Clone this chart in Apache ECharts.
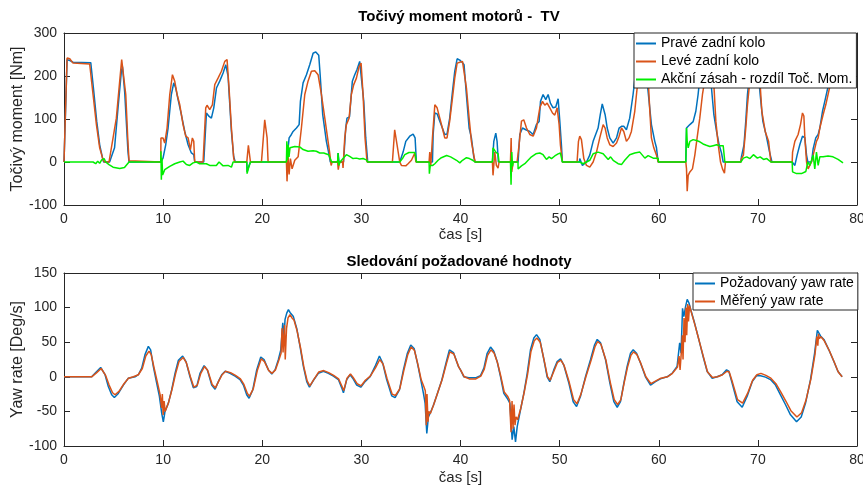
<!DOCTYPE html>
<html>
<head>
<meta charset="utf-8">
<script src="https://cdn.jsdelivr.net/npm/echarts@6/dist/echarts.min.js"></script>
<style>
  html, body { margin: 0; padding: 0; background: #fff; }
  #chart { width: 863px; height: 488px; }
</style>
</head>
<body>
<div id="chart"></div>
<script>
// [time s, torque Nm]
const pravePts = [
  [0,0],[0.31,238],[0.6,236],[0.91,232],[2.7,231],[3.0,165],[3.3,95],[3.6,40],[3.9,8],[4.0,0],
  [4.6,0],[5.1,33],[5.45,126],[5.79,211],[5.9,222],[6.13,160],[6.45,25],[6.56,0],
  [9.76,0],[9.99,9],[10.26,40],[10.5,79],[10.83,157],[11.07,184],[11.27,172],[11.51,145],[11.84,110],[12.18,71],[12.52,40],[12.85,21],[13.09,17],[13.19,0],
  [14.1,0],[14.37,114],[14.64,106],[14.87,102],[15.11,126],[15.38,172],[15.71,188],[16.05,207],[16.32,226],[16.55,200],[16.89,71],[17.12,12],[17.28,0],
  [18.44,0],[18.47,-23],[18.67,-8],[18.81,0],
  [22.44,0],[22.6,30],[22.71,56],[22.94,64],[23.11,71],[23.45,79],[23.72,87],[23.85,141],[24.12,184],[24.46,203],[24.79,226],[25.13,253],[25.4,256],[25.7,248],[25.85,200],[26.1,110],[26.47,48],[26.74,17],[26.87,0],
  [27.6,0],[27.65,21],[27.75,0],
  [28.2,0],[28.42,79],[28.55,102],[28.8,105],[29.09,188],[29.33,203],[29.56,215],[29.83,234],[30.0,232],[30.24,141],[30.44,56],[30.64,0],
  [33.87,0],[34.21,23],[34.48,48],[34.88,60],[35.22,65],[35.42,56],[35.55,0],
  [37.17,0],[37.24,64],[37.41,114],[37.64,112],[37.91,95],[38.17,79],[38.41,64],[38.64,65],[38.91,102],[39.19,164],[39.42,211],[39.66,240],[39.93,237],[40.2,231],[40.36,226],[40.6,155],[40.87,79],[41.1,56],[41.34,12],[41.47,0],
  [43.22,0],[43.36,48],[43.56,67],[43.69,48],[43.82,0],
  [45.81,0],[45.98,64],[46.25,79],[46.59,75],[46.99,71],[47.33,64],[47.66,87],[47.93,94],[48.07,141],[48.33,157],[48.6,145],[48.84,157],[49.07,137],[49.34,126],[49.61,128],[49.85,147],[50.02,94],[50.18,40],[50.28,0],
  [52.0,0],[52.03,8],[52.3,-8],[52.71,0],[53.04,16],[53.38,48],[53.88,79],[54.1,110],[54.3,135],[54.59,110],[54.8,79],[55.06,56],[55.4,44],[55.74,56],[56.0,79],[56.24,83],[56.47,83],[56.74,75],[57.07,102],[57.41,157],[57.6,195],[57.9,230],[58.3,245],[58.6,220],[58.9,170],[59.26,87],[59.6,48],[59.77,33],[59.94,0],
  [62.73,0],[62.8,79],[62.97,83],[63.14,87],[63.47,94],[63.74,118],[63.97,157],[64.14,195],[64.5,240],[64.9,250],[65.2,230],[65.32,172],[65.56,110],[65.83,71],[66.09,40],[66.33,21],[66.5,0],
  [68.28,0],[68.34,12],[68.6,40],[68.78,95],[68.95,157],[69.1,190],[69.5,245],[69.9,240],[70.23,157],[70.5,95],[70.84,62],[71.18,23],[71.42,0],
  [73.46,0],[73.73,-8],[73.96,16],[74.23,40],[74.5,60],[74.74,56],[74.91,16],[75.04,0],[75.41,0],[75.58,31],[75.84,56],[76.08,64],[76.25,79],[76.52,118],[76.75,141],[76.98,165],[77.2,185],[77.8,220],[78.2,210],[78.59,185]
];

const levePts = [
  [0,0],[0.31,242],[0.58,240],[0.91,230],[2.59,228],[2.93,157],[3.27,87],[3.6,33],[3.94,5],[4.1,0],
  [4.54,0],[4.95,56],[5.28,102],[5.62,188],[5.82,238],[6.02,238],[6.23,157],[6.43,56],[6.56,3],[6.6,0],
  [9.76,0],[9.78,56],[9.99,56],[10.16,44],[10.4,79],[10.67,157],[10.94,203],[11.17,188],[11.41,157],[11.68,133],[12.01,87],[12.28,60],[12.52,56],[12.75,29],[12.95,56],[13.09,48],[13.19,0],
  [14.03,0],[14.3,126],[14.43,132],[14.7,122],[14.97,133],[15.21,180],[15.54,195],[15.88,211],[16.22,234],[16.45,238],[16.65,172],[16.89,79],[17.12,9],[17.22,0],
  [18.44,0],[18.6,39],[18.74,39],[18.81,0],
  [19.92,0],[20.25,98],[20.49,56],[20.59,0],
  [22.44,0],[22.5,-45],[22.6,16],[22.71,-29],[22.84,8],[23.01,-16],[23.28,4],[23.62,12],[23.95,79],[24.29,157],[24.62,188],[24.96,211],[25.3,212],[25.63,203],[25.97,157],[26.31,102],[26.64,48],[26.81,20],[26.95,-8],[27.05,0],
  [27.6,0],[27.67,-18],[27.8,0],
  [28.1,0],[28.15,-14],[28.32,56],[28.49,87],[28.76,102],[28.99,157],[29.23,180],[29.5,195],[29.77,222],[29.97,230],[30.17,157],[30.37,56],[30.57,0],
  [33.13,0],[33.36,75],[33.6,40],[33.87,0],[34.04,-8],[34.21,-12],[34.48,-9],[34.71,-4],[35.05,4],[35.39,21],[35.5,0],
  [36.83,0],[36.9,23],[37.0,-8],[37.17,56],[37.41,133],[37.64,126],[37.91,102],[38.17,79],[38.41,56],[38.64,56],[38.91,95],[39.19,149],[39.42,195],[39.66,230],[39.93,232],[40.2,234],[40.36,230],[40.6,172],[40.87,102],[41.1,48],[41.34,16],[41.47,0],
  [43.22,0],[43.28,-31],[43.46,23],[43.62,-8],[43.79,-14],[43.89,0],
  [45.04,0],[45.11,56],[45.17,-23],[45.31,0],
  [45.71,0],[45.91,40],[46.15,95],[46.38,98],[46.66,79],[46.99,64],[47.33,60],[47.66,79],[48.0,126],[48.27,141],[48.5,132],[48.74,137],[49.01,126],[49.28,114],[49.51,109],[49.75,126],[49.95,87],[50.08,40],[50.28,0],
  [51.76,0],[51.9,48],[52.03,60],[52.2,52],[52.44,8],[52.71,-8],[53.04,-12],[53.38,0],[53.72,23],[54.05,56],[54.39,87],[54.59,79],[54.8,56],[55.06,40],[55.4,36],[55.74,44],[56.0,60],[56.24,79],[56.47,71],[56.74,48],[57.0,56],[57.24,71],[57.58,118],[57.82,172],[58.02,210],[58.4,240],[58.7,230],[58.93,195],[59.1,118],[59.26,56],[59.5,33],[59.77,16],[59.94,0],
  [62.73,0],[62.8,-16],[62.87,-68],[62.97,-31],[63.14,-23],[63.4,-16],[63.64,16],[63.87,56],[64.14,102],[64.41,157],[64.64,190],[65.0,245],[65.3,230],[65.56,180],[65.76,95],[66.0,40],[66.23,0],[66.43,-16],[66.63,-26],[66.73,0],
  [68.28,0],[68.34,8],[68.54,16],[68.78,79],[68.95,133],[69.15,180],[69.5,240],[69.9,235],[70.23,180],[70.4,118],[70.74,71],[71.08,48],[71.31,0],
  [73.46,0],[73.5,23],[73.73,48],[74.06,64],[74.3,87],[74.5,114],[74.64,107],[74.74,56],[74.91,0],[75.07,-16],[75.24,-8],[75.41,0],[75.58,16],[75.74,31],[75.91,48],[76.08,56],[76.25,79],[76.58,110],[76.85,133],[77.08,157],[77.3,180],[77.8,210],[78.2,200],[78.59,172]
];

const akcniPts = [
  [0,0],[2.93,0],[3.2,-4],[3.4,2],[3.6,-3],[3.8,5],[4.05,8],[4.2,0],[4.54,-6],[4.95,-12],[5.62,-15],[6.1,-13],[6.56,0],
  [9.76,0],[9.78,25],[9.82,-41],[9.88,10],[9.95,-30],[10.16,-18],[10.67,-10],[11.17,-4],[11.34,-8],[11.68,0],[12.01,2],[12.35,-6],[12.68,-8],[13.02,-2],[13.36,0],[13.69,-4],[14.36,-4],[14.7,-8],[15.37,-8],[15.64,0],[16.05,-9],[16.55,-8],[16.89,-12],[17.06,0],
  [18.44,0],[18.47,-27],[18.6,-15],[18.81,0],
  [22.44,0],[22.48,48],[22.55,5],[22.62,40],[22.7,12],[22.8,33],[23.0,33],[23.28,36],[23.78,35],[24.12,29],[24.62,25],[25.13,26],[25.46,25],[25.8,21],[26.2,21],[26.7,17],[26.9,15],[27.0,0],
  [27.6,0],[27.65,21],[27.72,-8],[27.85,0],[28.15,8],[28.49,17],[28.82,13],[29.16,8],[29.5,9],[29.83,7],[30.17,8],[30.5,5],[30.64,0],
  [33.87,0],[34.0,4],[34.2,10],[34.38,17],[34.8,22],[35.4,22],[35.55,0],
  [36.83,0],[36.86,-27],[36.95,-8],[37.2,-8],[37.41,-4],[37.74,4],[38.07,10],[38.6,15],[39.0,12],[39.6,4],[39.93,-2],[40.2,4],[40.6,10],[40.9,8],[41.24,4],[41.47,0],
  [43.22,0],[43.28,33],[43.56,23],[43.79,19],[43.89,0],
  [45.04,0],[45.1,-53],[45.17,23],[45.25,-10],[45.31,0],[45.8,0],[45.81,-16],[46.15,-9],[46.49,-4],[46.82,4],[47.16,12],[47.6,19],[48.0,21],[48.33,17],[48.67,6],[48.94,12],[49.18,8],[49.51,14],[49.85,19],[50.08,21],[50.28,0],
  [52.03,0],[52.37,-4],[52.71,0],[53.04,4],[53.38,19],[53.88,23],[54.39,19],[54.9,6],[55.14,12],[55.4,4],[55.9,-4],[56.24,-6],[56.57,4],[57.07,17],[57.58,21],[58.09,23],[58.6,9],[58.93,15],[59.44,9],[59.94,9],[59.97,0],
  [62.73,0],[62.8,79],[62.87,48],[62.97,33],[63.14,48],[63.47,52],[63.81,50],[64.14,47],[64.47,42],[64.8,39],[65.15,36],[65.49,38],[65.83,40],[66.16,38],[66.5,38],[66.67,0],
  [68.28,0],[68.54,9],[68.88,12],[69.2,8],[69.55,17],[69.72,21],[69.95,9],[70.23,12],[70.57,6],[70.9,8],[71.31,0],
  [73.46,0],[73.5,-23],[73.9,-27],[74.4,-27],[74.84,-22],[75.04,0],[75.24,-8],[75.58,16],[75.74,-16],[75.91,23],[76.08,-8],[76.25,12],[76.58,12],[77.08,14],[77.58,12],[78.09,6],[78.59,-2]
];

// [time s, yaw rate deg/s]
const pozadovanyPts = [
  [0,0],[2.79,0],[3.3,7.7],[3.7,13.5],[4.14,3],[4.47,-14],[4.81,-26],[5.08,-30],[5.48,-24],[5.99,-12],[6.49,-2],[6.83,-1],[7.17,0],[7.5,3],[7.84,12.5],[8.17,32],[8.51,44],[8.74,39],[9.01,15],[9.35,-9],[9.62,-28],[9.86,-53],[10.02,-65],[10.19,-50],[10.53,-38],[10.86,-19],[11.2,5],[11.54,24],[11.97,30],[12.31,22],[12.71,0],[13.05,-16],[13.39,-14],[13.72,5],[14.13,16],[14.46,10],[14.9,-12],[15.24,-18],[15.57,-7],[15.91,3],[16.25,8],[16.75,5],[17.26,1],[17.76,-4],[18.1,-12],[18.43,-26],[18.67,-31],[19.04,-19],[19.44,10],[19.85,28.5],[20.18,25],[20.62,10],[20.96,4],[21.29,10],[21.63,25],[21.87,39],[22.07,78],[22.2,58],[22.3,83],[22.47,92],[22.64,97],[22.8,93],[23.14,87],[23.48,70],[23.81,44],[24.15,15],[24.49,-7],[24.76,-15],[25.16,-5],[25.66,5],[26.17,8],[26.67,5],[27.18,1],[27.68,-4],[28.02,-16],[28.19,-23],[28.52,-4],[28.86,3],[29.13,-2],[29.53,-12],[29.94,-15],[30.37,-7],[30.87,0],[31.38,15],[31.82,30],[32.15,20],[32.55,-4],[33.06,-27.5],[33.4,-30],[33.84,-19],[34.24,10],[34.64,34],[34.98,46],[35.32,41],[35.65,20],[35.99,-4],[36.26,-24],[36.43,-38],[36.6,-82],[36.76,-58],[36.93,-53],[37.27,-41],[37.67,-24],[38.11,-5],[38.54,20],[38.88,39],[39.29,35],[39.79,15],[40.0,10],[40.34,0],[40.84,-1.5],[41.51,-1.5],[42.01,1.5],[42.36,12.5],[42.69,34],[43.03,43],[43.36,37],[43.7,22],[44.04,0],[44.37,-24],[44.71,-31],[44.98,-38],[45.21,-91],[45.38,-72],[45.55,-94],[45.72,-72],[46.05,-48],[46.39,-24],[46.73,5],[47.06,39],[47.4,56],[47.67,61],[48.0,54],[48.41,25],[48.74,0],[49.01,-7],[49.41,10],[49.75,22],[50.09,26],[50.42,17],[50.93,-9],[51.37,-36],[51.71,-43],[52.11,-28],[52.61,0],[53.12,25],[53.52,46],[53.79,54],[54.13,49],[54.63,25],[55.07,-9],[55.47,-36],[55.81,-44],[56.14,-36],[56.48,-9],[56.81,15],[57.15,34],[57.42,39],[57.76,34],[58.16,20],[58.66,0],[59.17,-12],[59.67,-7],[60.17,-3],[60.84,0],[61.34,5],[61.85,15],[62.11,49],[62.25,34],[62.4,99],[62.53,87],[62.7,101],[62.87,112],[63.04,107],[63.27,95],[63.61,78],[64.04,54],[64.48,29],[64.88,8],[65.39,-2],[65.89,0],[66.39,3],[66.84,10],[67.07,8],[67.4,-9],[67.91,-36],[68.42,-44],[68.92,-28],[69.43,-7],[69.86,1.5],[70.27,1.5],[70.77,-0.5],[71.27,-4],[71.78,-12],[72.28,-26],[72.78,-40],[73.29,-55],[73.9,-65],[74.37,-58],[74.81,-38],[75.31,-4],[75.72,34],[76.0,67],[76.16,63],[76.32,59],[76.66,54],[77.16,39],[77.67,22],[78.07,8],[78.5,0]
];

const merenyPts = [
  [0,0],[2.79,0],[3.3,6],[3.75,12],[4.2,2],[4.55,-12],[4.9,-23],[5.15,-26],[5.55,-21],[6.05,-10],[6.5,-2],[7.0,0],[7.5,3],[7.9,12],[8.25,30],[8.58,37],[8.8,32],[9.1,12],[9.45,-10],[9.7,-26],[9.85,-45],[9.92,-25],[10.0,-55],[10.1,-35],[10.2,-50],[10.55,-37],[10.9,-18],[11.25,4],[11.6,22],[12.02,28],[12.35,20],[12.75,0],[13.1,-15],[13.45,-12],[13.8,5],[14.18,15],[14.5,9],[14.95,-11],[15.28,-16],[15.62,-6],[15.95,3],[16.3,8],[16.8,6],[17.3,2],[17.8,-3],[18.15,-11],[18.5,-24],[18.72,-28],[19.1,-17],[19.5,9],[19.9,26],[20.22,22],[20.66,9],[21.0,5],[21.33,10],[21.67,24],[21.9,34],[22.0,70],[22.1,35],[22.24,75],[22.32,25],[22.45,70],[22.6,85],[22.8,90],[23.0,85],[23.2,82],[23.52,66],[23.86,42],[24.2,14],[24.53,-6],[24.8,-13],[25.2,-4],[25.7,7],[26.2,9],[26.7,6],[27.2,2],[27.7,-3],[28.05,-14],[28.22,-20],[28.55,-2],[28.9,4],[29.17,-1],[29.57,-10],[29.98,-13],[30.4,-5],[30.9,1],[31.42,13],[31.86,25],[32.2,18],[32.6,-3],[33.1,-25],[33.44,-27],[33.88,-17],[34.28,9],[34.68,32],[35.02,43],[35.36,38],[35.7,18],[36.03,-4],[36.3,-14],[36.45,-20],[36.55,-70],[36.62,-25],[36.72,-65],[36.8,-50],[36.96,-53],[37.3,-40],[37.7,-23],[38.15,-4],[38.58,19],[38.92,36],[39.33,33],[39.83,14],[40.04,9],[40.38,0],[40.88,-3],[41.55,-3],[42.05,1],[42.4,11],[42.73,31],[43.07,39],[43.4,34],[43.74,20],[44.08,0],[44.41,-22],[44.75,-28],[44.95,-34],[45.1,-80],[45.2,-35],[45.3,-75],[45.4,-40],[45.5,-70],[45.6,-58],[45.76,-62],[46.09,-45],[46.43,-22],[46.77,4],[47.1,36],[47.44,52],[47.71,56],[48.04,50],[48.45,23],[48.78,0],[49.05,-5],[49.45,9],[49.79,21],[50.13,24],[50.46,16],[50.97,-8],[51.41,-33],[51.75,-39],[52.15,-25],[52.65,0],[53.16,23],[53.56,43],[53.83,51],[54.17,47],[54.67,24],[55.11,-8],[55.51,-33],[55.85,-40],[56.18,-33],[56.52,-8],[56.85,14],[57.19,31],[57.46,36],[57.8,32],[58.2,19],[58.7,0],[59.21,-10],[59.71,-6],[60.21,-2],[60.88,0],[61.38,5],[61.89,14],[62.05,30],[62.15,10],[62.3,40],[62.38,60],[62.45,25],[62.55,85],[62.65,50],[62.75,100],[62.82,60],[62.92,105],[63.0,80],[63.1,103],[63.31,92],[63.65,75],[64.08,52],[64.52,28],[64.92,7],[65.43,-1],[65.93,0],[66.43,3],[66.88,8],[67.11,7],[67.44,-8],[67.95,-33],[68.46,-38],[68.96,-24],[69.47,-5],[69.9,3],[70.31,5],[70.81,2],[71.31,-2],[71.82,-10],[72.32,-22],[72.82,-35],[73.33,-49],[73.94,-58],[74.41,-52],[74.85,-34],[75.35,-3],[75.76,32],[75.95,58],[76.05,45],[76.12,62],[76.2,55],[76.36,58],[76.7,52],[77.2,38],[77.71,21],[78.11,7],[78.5,0]
];

const topNames = ['Pravé zadní kolo', 'Levé zadní kolo', 'Akční zásah - rozdíl Toč. Mom.'];
const bottomNames = ['Požadovaný yaw rate', 'Měřený yaw rate'];

const BLUE = '#0072BD';
const ORANGE = '#D95319';
const GREEN = '#00EE00';
const INK = '#262626';
const FONT = '"Liberation Sans", Arial, sans-serif';

function xAxis(grid, pos, name, gap) {
  return {
    type: 'value', gridIndex: grid, position: pos,
    min: 0, max: 80, interval: 10,
    axisLine: { show: true, onZero: false, lineStyle: { color: INK, width: 1 } },
    axisTick: { show: true, inside: true, length: 6, lineStyle: { color: INK } },
    axisLabel: { show: pos === 'bottom', margin: 7, color: INK, fontSize: 14, fontFamily: FONT },
    splitLine: { show: false },
    name: name, nameLocation: 'middle', nameGap: gap, nameMoveOverlap: false,
    nameTextStyle: { color: INK, fontSize: 15, fontFamily: FONT }
  };
}

function yAxis(grid, pos, min, max, step, name) {
  return {
    type: 'value', gridIndex: grid, position: pos,
    min: min, max: max, interval: step,
    axisLine: { show: true, onZero: false, lineStyle: { color: INK, width: 1 } },
    axisTick: { show: true, inside: true, length: 6, lineStyle: { color: INK } },
    axisLabel: { show: pos === 'left', margin: 7, color: INK, fontSize: 14, fontFamily: FONT },
    splitLine: { show: false },
    name: name, nameLocation: 'middle', nameGap: 38, nameRotate: 90, nameMoveOverlap: false,
    nameTextStyle: { color: INK, fontSize: 16, fontFamily: FONT }
  };
}

function line(name, data, color, xi, yi) {
  return {
    name: name, type: 'line', data: data,
    xAxisIndex: xi, yAxisIndex: yi,
    showSymbol: false, symbol: 'none',
    color: color,
    lineStyle: { color: color, width: 1.5 },
    emphasis: { disabled: true }
  };
}

function legend(names, left, top) {
  return {
    data: names, orient: 'vertical', left: left, top: top,
    padding: [3, 4, 1, 2], itemGap: 3, itemWidth: 20, itemHeight: 2,
    icon: 'rect', selectedMode: false,
    backgroundColor: '#fff', borderColor: INK, borderWidth: 1, borderRadius: 0,
    textStyle: { color: '#000', fontSize: 14, fontFamily: FONT, lineHeight: 15 }
  };
}

const chart = echarts.init(document.getElementById('chart'));
chart.setOption({
  animation: false,
  backgroundColor: '#fff',
  grid: [
    { left: 64, top: 33, width: 793, height: 172, outerBoundsMode: 'none' },
    { left: 64, top: 273, width: 793, height: 173, outerBoundsMode: 'none' }
  ],
  xAxis: [
    xAxis(0, 'bottom', 'čas [s]', 22), xAxis(0, 'top', '', 0),
    xAxis(1, 'bottom', 'čas [s]', 24), xAxis(1, 'top', '', 0)
  ],
  yAxis: [
    yAxis(0, 'left', -100, 300, 100, 'Točivý moment [Nm]'), yAxis(0, 'right', -100, 300, 100, ''),
    yAxis(1, 'left', -100, 150, 50, 'Yaw rate [Deg/s]'), yAxis(1, 'right', -100, 150, 50, '')
  ],
  legend: [legend(topNames, 634, 33), legend(bottomNames, 693, 273)],
  graphic: [
    { type: 'text', x: 459, y: 17, style: { text: 'Točivý moment motorů -  TV', font: 'bold 15px ' + FONT, fill: '#000', align: 'center', verticalAlign: 'middle' } },
    { type: 'text', x: 459, y: 262, style: { text: 'Sledování požadované hodnoty', font: 'bold 15px ' + FONT, fill: '#000', align: 'center', verticalAlign: 'middle' } }
  ],
  series: [
    line(topNames[0], pravePts, BLUE, 0, 0),
    line(topNames[1], levePts, ORANGE, 0, 0),
    line(topNames[2], akcniPts, GREEN, 0, 0),
    line(bottomNames[0], pozadovanyPts, BLUE, 2, 2),
    line(bottomNames[1], merenyPts, ORANGE, 2, 2)
  ]
});
</script>
</body>
</html>
